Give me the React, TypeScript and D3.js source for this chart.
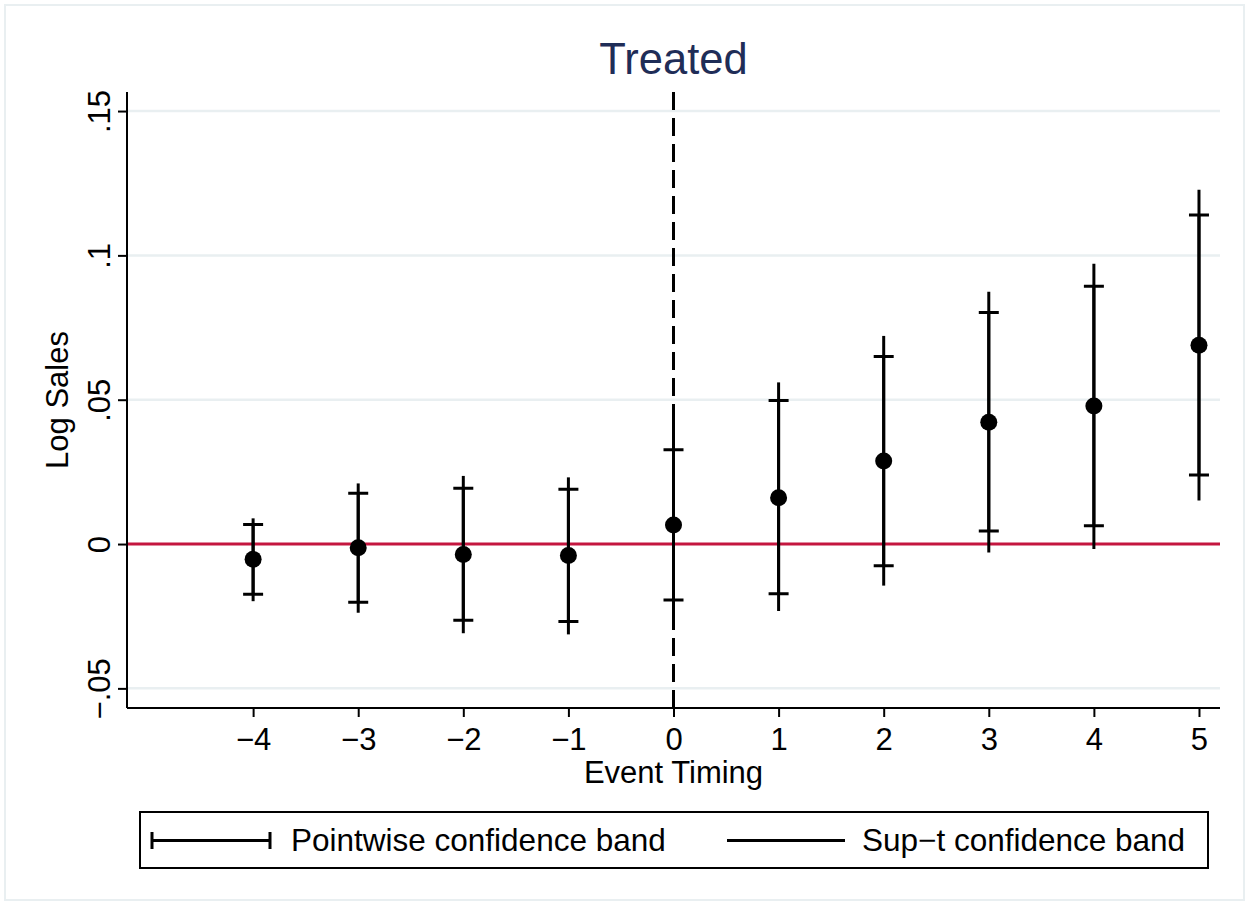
import React, { useEffect, useRef } from 'react';
import * as d3 from 'd3';

// event time, point estimates and the two bands
const periods = [-4, -3, -2, -1, 0, 1, 2, 3, 4, 5];
const estimates = [-0.0053, -0.0013, -0.0036, -0.004, 0.0066, 0.016, 0.0288, 0.0422, 0.0478, 0.0689];
const pointLower = [-0.0174, -0.0202, -0.0264, -0.0268, -0.0194, -0.0172, -0.0075, 0.0045, 0.0063, 0.0239];
const pointUpper = [0.0068, 0.0176, 0.0193, 0.019, 0.0327, 0.0497, 0.065, 0.0802, 0.0893, 0.114];
const suptLower = [-0.0198, -0.0238, -0.0309, -0.0313, -0.0245, -0.0232, -0.0144, -0.0029, -0.0017, 0.0151];
const suptUpper = [0.0089, 0.021, 0.0236, 0.0231, 0.0435, 0.056, 0.0721, 0.0874, 0.0971, 0.1227];

const yTicks = [-0.05, 0, 0.05, 0.1, 0.15];
const yTickLabels = ['\u2212.05', '0', '.05', '.1', '.15'];
const xTickLabels = ['\u22124', '\u22123', '\u22122', '\u22121', '0', '1', '2', '3', '4', '5'];

const FONT = '"Liberation Sans", Arial, Helvetica, sans-serif';

export default function App() {
  const ref = useRef<SVGSVGElement>(null);

  useEffect(() => {
    const svg = d3.select(ref.current);
    svg.selectAll('*').remove();

    const left = 127;
    const right = 1220;
    const top = 92;
    const bottom = 708;

    const x = d3.scaleLinear().domain([-5.2, 5.2]).range([left, right]);
    const y = d3.scaleLinear().domain([-0.0568, 0.1566]).range([bottom, top]);

    const rows = periods.map((p, i) => ({
      p,
      est: estimates[i],
      pl: pointLower[i],
      pu: pointUpper[i],
      sl: suptLower[i],
      su: suptUpper[i],
    }));

    // outer frame
    svg
      .append('rect')
      .attr('x', 5)
      .attr('y', 5)
      .attr('width', 1239)
      .attr('height', 895)
      .attr('fill', 'white')
      .attr('stroke', '#e9eff1')
      .attr('stroke-width', 2);

    // grid
    svg
      .append('g')
      .selectAll('line')
      .data(yTicks.filter(t => t !== 0))
      .enter()
      .append('line')
      .attr('x1', left)
      .attr('x2', right)
      .attr('y1', d => y(d))
      .attr('y2', d => y(d))
      .attr('stroke', '#e9eff1')
      .attr('stroke-width', 2.5);

    // zero reference line
    svg
      .append('line')
      .attr('x1', left)
      .attr('x2', right)
      .attr('y1', y(0))
      .attr('y2', y(0))
      .attr('stroke', '#c4163f')
      .attr('stroke-width', 3);

    // y axis
    const yAxis = d3
      .axisLeft(y)
      .tickValues(yTicks)
      .tickSize(9)
      .tickPadding(0)
      .tickFormat((d, i) => yTickLabels[i]);
    const gy = svg
      .append('g')
      .attr('transform', `translate(${left},0)`)
      .call(yAxis);
    gy.select('.domain').attr('d', `M0,${top}V${bottom}`).attr('stroke', 'black').attr('stroke-width', 2);
    gy.selectAll('.tick line').attr('stroke', 'black').attr('stroke-width', 2);
    gy.selectAll('.tick text')
      .attr('x', 0)
      .attr('y', 0)
      .attr('dy', 0)
      .attr('transform', 'translate(-17,0) rotate(-90)')
      .attr('text-anchor', 'middle')
      .attr('fill', 'black')
      .style('font-family', FONT)
      .style('font-size', '31px');

    // x axis
    const xAxis = d3
      .axisBottom(x)
      .tickValues(periods)
      .tickSize(9)
      .tickPadding(0)
      .tickFormat((d, i) => xTickLabels[i]);
    const gx = svg
      .append('g')
      .attr('transform', `translate(0,${bottom})`)
      .call(xAxis);
    gx.select('.domain').attr('d', `M${left},0H${right}`).attr('stroke', 'black').attr('stroke-width', 2);
    gx.selectAll('.tick line').attr('stroke', 'black').attr('stroke-width', 2);
    gx.selectAll('.tick text')
      .attr('y', 42)
      .attr('dy', 0)
      .attr('fill', 'black')
      .style('font-family', FONT)
      .style('font-size', '31px');

    // event line
    svg
      .append('line')
      .attr('x1', x(0))
      .attr('x2', x(0))
      .attr('y1', top)
      .attr('y2', bottom)
      .attr('stroke', 'black')
      .attr('stroke-width', 3)
      .attr('stroke-dasharray', '18 8');

    // sup-t bands
    svg
      .append('g')
      .selectAll('line')
      .data(rows)
      .enter()
      .append('line')
      .attr('x1', d => x(d.p))
      .attr('x2', d => x(d.p))
      .attr('y1', d => y(d.sl))
      .attr('y2', d => y(d.su))
      .attr('stroke', 'black')
      .attr('stroke-width', 3);

    // pointwise bands (rcap)
    const caps = svg.append('g').attr('stroke', 'black').attr('stroke-width', 3).attr('fill', 'none');
    caps
      .selectAll('path')
      .data(rows)
      .enter()
      .append('path')
      .attr('d', d => {
        const cx = x(d.p);
        const lo = y(d.pl);
        const hi = y(d.pu);
        return `M${cx - 10},${lo}H${cx + 10}M${cx},${lo}V${hi}M${cx - 10},${hi}H${cx + 10}`;
      });

    // estimates
    svg
      .append('g')
      .selectAll('circle')
      .data(rows)
      .enter()
      .append('circle')
      .attr('cx', d => x(d.p))
      .attr('cy', d => y(d.est))
      .attr('r', 8.5)
      .attr('fill', 'black');

    // titles
    svg
      .append('text')
      .attr('x', (left + right) / 2)
      .attr('y', 74)
      .attr('text-anchor', 'middle')
      .attr('fill', '#1f2d57')
      .style('font-family', FONT)
      .style('font-size', '43.5px')
      .text('Treated');

    svg
      .append('text')
      .attr('x', (left + right) / 2)
      .attr('y', 783)
      .attr('text-anchor', 'middle')
      .style('font-family', FONT)
      .style('font-size', '31px')
      .text('Event Timing');

    svg
      .append('text')
      .attr('transform', `translate(68,${(top + bottom) / 2}) rotate(-90)`)
      .attr('text-anchor', 'middle')
      .style('font-family', FONT)
      .style('font-size', '31px')
      .text('Log Sales');

    // legend
    const legend = svg.append('g');
    legend
      .append('rect')
      .attr('x', 140)
      .attr('y', 812)
      .attr('width', 1068)
      .attr('height', 56)
      .attr('fill', 'white')
      .attr('stroke', 'black')
      .attr('stroke-width', 2);
    legend
      .append('path')
      .attr('d', 'M152,832V849M152,840.5H270M270,832V849')
      .attr('stroke', 'black')
      .attr('stroke-width', 3)
      .attr('fill', 'none');
    legend
      .append('text')
      .attr('x', 291)
      .attr('y', 851)
      .style('font-family', FONT)
      .style('font-size', '31.5px')
      .text('Pointwise confidence band');
    legend
      .append('line')
      .attr('x1', 727)
      .attr('x2', 845)
      .attr('y1', 840.5)
      .attr('y2', 840.5)
      .attr('stroke', 'black')
      .attr('stroke-width', 3);
    legend
      .append('text')
      .attr('x', 862)
      .attr('y', 851)
      .style('font-family', FONT)
      .style('font-size', '31.5px')
      .text('Sup\u2212t confidence band');
  }, []);

  return (
    <div style={{ position: 'absolute', left: 0, top: 0 }}>
      <svg ref={ref} width={1250} height={907} style={{ display: 'block', background: 'white' }} />
    </div>
  );
}
